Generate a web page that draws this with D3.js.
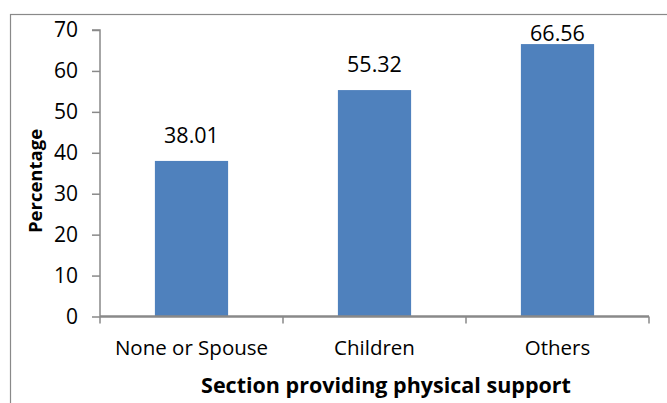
<!DOCTYPE html>
<html>
<head>
<meta charset="utf-8">
<script src="https://cdn.jsdelivr.net/npm/d3@7"></script>
<style>
  html, body { margin: 0; padding: 0; background: #fff; }
  svg { display: block; font-family: "Open Sans", sans-serif; }
</style>
</head>
<body>
<svg id="chart" width="667" height="403"></svg>
<script>
// Share of respondents by who provides physical support
const categories = ["None or Spouse", "Children", "Others"];
const values = [38.01, 55.32, 66.56];
const yTicks = [0, 10, 20, 30, 40, 50, 60, 70];

const svg = d3.select("#chart");
const plot = { left: 100, right: 649, top: 30, bottom: 316.5 };

// outer chart frame
svg.append("rect")
  .attr("x", 10.5).attr("y", 14.5)
  .attr("width", 700).attr("height", 420)
  .attr("fill", "none").attr("stroke", "#898989").attr("stroke-width", 1.2);

const x = d3.scaleBand().domain(categories)
  .range([plot.left, plot.right]).paddingInner(0.6).paddingOuter(0.3);
const y = d3.scaleLinear().domain([0, 70]).range([plot.bottom, plot.top]);

// bars
svg.append("g").selectAll("rect").data(values).join("rect")
  .attr("x", (d, i) => x(categories[i]))
  .attr("width", x.bandwidth())
  .attr("y", d => y(d))
  .attr("height", d => y(0) - y(d))
  .attr("fill", "#4F81BD");

// value labels
svg.append("g").selectAll("text").data(values).join("text")
  .attr("x", (d, i) => x(categories[i]) + x.bandwidth() / 2)
  .attr("y", d => Math.max(y(d) - 18, 41))
  .attr("text-anchor", "middle")
  .style("font-size", "21.5px")
  .attr("fill", "#000")
  .text(d => d.toFixed(2));

// y axis
const yAxis = svg.append("g")
  .attr("transform", `translate(${plot.left},0)`)
  .call(d3.axisLeft(y).tickValues(yTicks).tickSize(8).tickPadding(14));
yAxis.attr("font-size", null).attr("font-family", null);
yAxis.selectAll("text").style("font-size", "21px").attr("fill", "#000");
yAxis.selectAll("line").attr("stroke", "#898989").attr("stroke-width", 1.5);
yAxis.select(".domain").attr("stroke", "#898989").attr("stroke-width", 1.5)
  .attr("d", `M-8,${y(70)}H0V${y(0)}`);

// x axis with boundary ticks between categories
const xBounds = [0, 1, 2, 3].map(i => plot.left + i * (plot.right - plot.left) / 3);
const xAxis = svg.append("g").attr("transform", `translate(0,${plot.bottom})`);
xAxis.append("path")
  .attr("d", `M${plot.left},0H${plot.right}`)
  .attr("stroke", "#898989").attr("stroke-width", 2.5).attr("fill", "none");
xAxis.selectAll("line").data(xBounds).join("line")
  .attr("x1", d => d).attr("x2", d => d).attr("y1", 0).attr("y2", 7)
  .attr("stroke", "#898989").attr("stroke-width", 1.5);
xAxis.selectAll("text").data(categories).join("text")
  .attr("x", d => x(d) + x.bandwidth() / 2)
  .attr("y", 38.5)
  .attr("text-anchor", "middle")
  .style("font-size", "20.5px")
  .attr("fill", "#000")
  .text(d => d);

// axis titles
svg.append("text")
  .attr("x", 386).attr("y", 393)
  .attr("text-anchor", "middle")
  .style("font-size", "21.5px").attr("font-weight", "bold")
  .text("Section providing physical support");

svg.append("text")
  .attr("transform", `translate(42,181) rotate(-90)`)
  .attr("text-anchor", "middle")
  .style("font-size", "18.5px").attr("font-weight", "bold")
  .text("Percentage");
</script>
</body>
</html>
